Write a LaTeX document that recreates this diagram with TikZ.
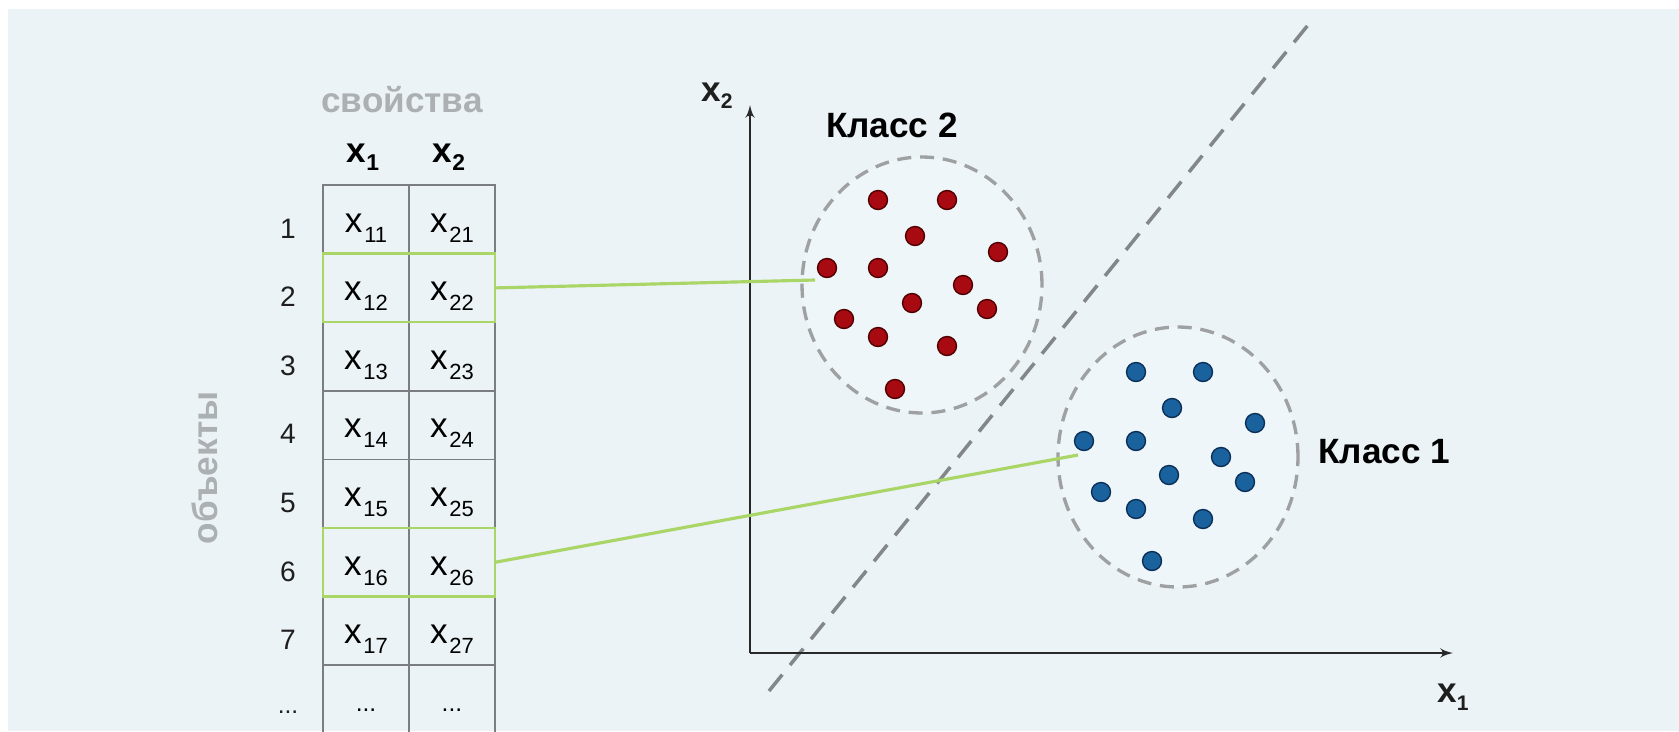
\documentclass[tikz,border=0pt]{standalone}
\usepackage{fontspec}
\setmainfont{Liberation Sans}
\usepackage{xcolor}
\usepackage{tikz}
\usetikzlibrary{shapes,arrows}
\usetikzlibrary{positioning}

\definecolor{bgblue}{RGB}{235,243,246}
\definecolor{ringfill}{RGB}{238,246,250}
\definecolor{gridgray}{RGB}{122,126,129}
\definecolor{lightgreen}{RGB}{170,214,104}
\definecolor{ringgray}{RGB}{158,160,162}
\definecolor{sepgray}{RGB}{132,135,137}
\definecolor{axisblack}{RGB}{40,40,40}
\definecolor{numblack}{RGB}{30,30,30}
\definecolor{labelgray}{RGB}{172,176,178}
\definecolor{dotred}{RGB}{168,10,18}
\definecolor{dotredline}{RGB}{80,0,0}
\definecolor{dotblue}{RGB}{26,98,158}
\definecolor{dotblueline}{RGB}{10,48,88}

% one pixel of the original picture
\newlength{\pxu}
\setlength{\pxu}{0.02cm}
% text whose baseline sits below the node centre
\newcommand{\lowered}[2]{\raisebox{-#1\pxu}[0pt][0pt]{#2}}
\newcommand{\cellx}[1]{\lowered{12.7}{x\kern1pt\raisebox{-10\pxu}{\fontsize{12.5}{12.5}\selectfont #1}}}

\begin{document}
\begin{tikzpicture}[x=0.02cm, y=-0.02cm, node distance = 0.4cm,
			cell/.style={
					draw=gridgray,
					line width=1pt,
					minimum width=1.72cm,
					minimum height=1.372cm,
					inner sep=0pt,
					outer sep=0pt,
					font=\fontsize{20}{20}\selectfont
				},
			rownum/.style={inner sep=0pt, text=numblack, font=\fontsize{16}{16}\selectfont},
			head/.style={inner sep=0pt, anchor=base, font=\bfseries\fontsize{20}{20}\selectfont},
			caption/.style={inner sep=0pt, text=labelgray, font=\bfseries\fontsize{20}{20}\selectfont},
			axislabel/.style={inner sep=0pt, text=numblack, font=\bfseries\fontsize{20}{20}\selectfont},
			classlabel/.style={inner sep=0pt, font=\bfseries\fontsize{20}{20}\selectfont},
			ring/.style={ellipse, draw=ringgray, fill=ringfill, line width=1.9pt,
					dash pattern=on 8pt off 5pt, inner sep=0pt, outer sep=0pt},
			axis/.style={draw=axisblack, line width=1.5pt, -latex'},
			link/.style={draw=lightgreen, line width=1.8pt},
			pick/.style={draw=lightgreen, line width=1.3pt},
			sep/.style={draw=sepgray, line width=2pt, dash pattern=on 12pt off 7pt},
			reddot/.style={fill=dotred, draw=dotredline, line width=0.8pt},
			bluedot/.style={fill=dotblue, draw=dotblueline, line width=0.8pt}
		]
		% Background
		\useasboundingbox (0,0) rectangle (1679,731);
		\clip (0,0) rectangle (1679,731);
		\fill[white] (0,0) rectangle (1679,731);
		\fill[bgblue] (8,9) rectangle (1679,731);
		% Place nodes
		\node[caption, anchor=base] (props) at (402,112) {свойства};
		\node[caption, rotate=90] (objs) at (205,468) {объекты};
		\node[head] (h1) at (363,162) {x\raisebox{-8\pxu}{\fontsize{13}{13}\selectfont 1}};
		\node[head] (h2) at (449,162) {x\raisebox{-8\pxu}{\fontsize{13}{13}\selectfont 2}};
		\foreach \i in {1,...,7} {
			\node[cell] (a\i) at (366,{185+68.6*(\i-0.5)}) {\cellx{1\i}};
			\node[cell, right=0pt of a\i] (b\i) {\cellx{2\i}};
			\node[rownum] (n\i) at (288,{185+68.6*(\i-0.5)}) {\lowered{18.7}{\i}};
		}
		\node[cell] (a8) at (366,699.1) {\lowered{12.7}{\fontsize{14}{14}\selectfont ...}};
		\node[cell, right=0pt of a8] (b8) {\lowered{12.7}{\fontsize{14}{14}\selectfont ...}};
		\node[rownum] (n8) at (288,699.1) {\lowered{14.5}{\fontsize{14}{14}\selectfont ...}};
		\draw[pick] (a2.north west) rectangle (b2.south east);
		\draw[pick] (a6.north west) rectangle (b6.south east);
		% Classes
		\node[ring, minimum width=4.8cm, minimum height=5.12cm] (cls2) at (922,285) {};
		\node[ring, minimum width=4.8cm, minimum height=5.2cm] (cls1) at (1178,457) {};
		\node[classlabel, above=0.38cm of cls2, xshift=-0.6cm] (lab2) {Класс 2};
		\node[classlabel, right=0.4cm of cls1, yshift=0.1cm] (lab1) {Класс 1};
		% Axes
		\coordinate (o) at (750,653);
		\coordinate (xend) at (1453,653);
		\coordinate (yend) at (750,105);
		\coordinate (sepa) at (769,691);
		\coordinate (sepb) at (1308,25);
		\path[sep] (sepa) -- (sepb);
		\path[axis] (o) -- (xend);
		\path[axis] (o) -- (yend);
		\node[axislabel] (lx2) at (717,96) {x\raisebox{-7\pxu}{\fontsize{12}{12}\selectfont 2}};
		\node[axislabel] (lx1) at (1453,697) {x\raisebox{-8\pxu}{\fontsize{12}{12}\selectfont 1}};
		% Draw edges
		\coordinate (p2) at (815,280);
		\coordinate (p6) at (1078,455);
		\path[link] (b2.east) -- (p2);
		\path[link] (b6.east) -- (p6);
		% Points
		\foreach \x/\y in {878/200, 947/200, 915/236, 998/252, 827/268, 878/268, 963/285,
				912/303, 987/309, 844/319, 878/337, 947/346, 895/389}
			\draw[reddot] (\x,\y) circle[radius=0.19cm];
		\foreach \x/\y in {1136/372, 1203/372, 1172/408, 1255/423, 1084/441, 1136/441, 1221/457,
				1169/475, 1245/482, 1101/492, 1136/509, 1203/519, 1152/561}
			\draw[bluedot] (\x,\y) circle[radius=0.19cm];
	\end{tikzpicture}
\end{document}
